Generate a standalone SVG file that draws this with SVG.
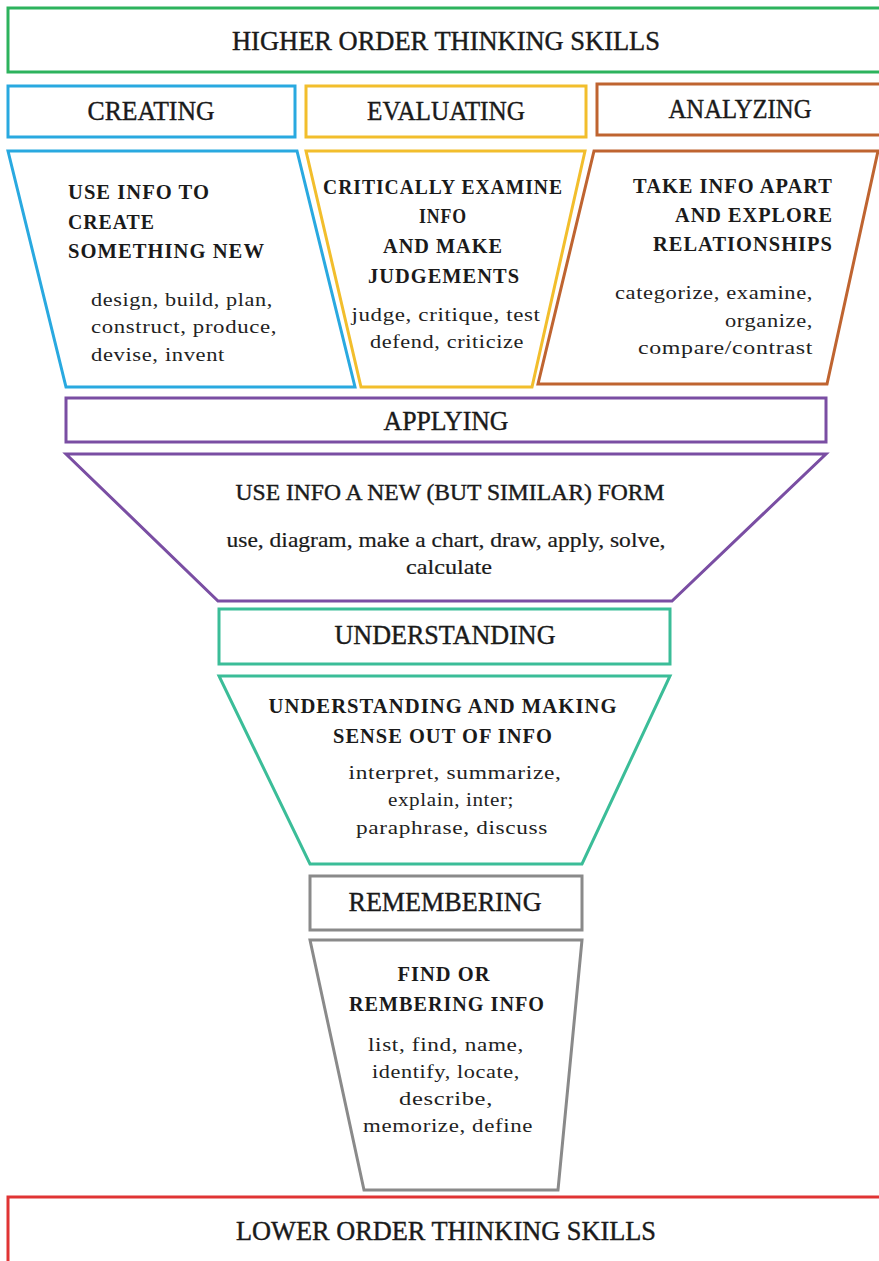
<svg xmlns="http://www.w3.org/2000/svg" width="879" height="1261" viewBox="0 0 879 1261">
<style>
.bx{fill:#fff;stroke-width:3}
.h{font-family:"Liberation Serif",serif;font-size:27px;fill:#1a1a1a;text-anchor:middle;stroke:#1a1a1a;stroke-width:0.4}
.b{font-family:"Liberation Serif",serif;font-size:20px;font-weight:bold;fill:#1a1a1a;letter-spacing:1px}
.t{font-family:"Liberation Serif",serif;font-size:18px;fill:#222;letter-spacing:0.5px}
.c{text-anchor:middle}
.r{text-anchor:end}
.green{stroke:#2db35d}.blue{stroke:#29a9e0}.yellow{stroke:#f2be2c}.brown{stroke:#bf6430}.purple{stroke:#7a4ea3}.teal{stroke:#3bbd98}.gray{stroke:#8a8a8a}.red{stroke:#e03434}
</style>
<rect width="879" height="1261" fill="#fff"/>
<g id="higher">
<rect class="bx green" x="8" y="8" width="880" height="64"/>
<text class="h" x="446" y="50" textLength="428" lengthAdjust="spacingAndGlyphs">HIGHER ORDER THINKING SKILLS</text>
</g>
<g id="creating">
<rect class="bx blue" x="8" y="86" width="287" height="51"/>
<text class="h" x="151" y="120" textLength="127" lengthAdjust="spacingAndGlyphs">CREATING</text>
<polygon class="bx blue" points="8,151 297,151 355,387 66,387"/>
<text class="b" x="68" y="199" textLength="142" lengthAdjust="spacingAndGlyphs">USE INFO TO</text>
<text class="b" x="68" y="229" textLength="87" lengthAdjust="spacingAndGlyphs">CREATE</text>
<text class="b" x="68" y="258" textLength="197" lengthAdjust="spacingAndGlyphs">SOMETHING NEW</text>
<text class="t" x="91" y="306" textLength="182" lengthAdjust="spacingAndGlyphs">design, build, plan,</text>
<text class="t" x="91" y="333" textLength="186" lengthAdjust="spacingAndGlyphs">construct, produce,</text>
<text class="t" x="91" y="361" textLength="134" lengthAdjust="spacingAndGlyphs">devise, invent</text>
</g>
<g id="evaluating">
<rect class="bx yellow" x="306" y="86" width="280" height="51"/>
<text class="h" x="446" y="120" textLength="158" lengthAdjust="spacingAndGlyphs">EVALUATING</text>
<polygon class="bx yellow" points="306,151 585,151 532,387 361,387"/>
<text class="b c" x="443" y="194" textLength="240" lengthAdjust="spacingAndGlyphs">CRITICALLY EXAMINE</text>
<text class="b c" x="443" y="223" textLength="48" lengthAdjust="spacingAndGlyphs">INFO</text>
<text class="b c" x="443" y="253" textLength="120" lengthAdjust="spacingAndGlyphs">AND MAKE</text>
<text class="b c" x="444" y="283" textLength="152" lengthAdjust="spacingAndGlyphs">JUDGEMENTS</text>
<text class="t c" x="446" y="321" textLength="189" lengthAdjust="spacingAndGlyphs">judge, critique, test</text>
<text class="t c" x="447" y="348" textLength="154" lengthAdjust="spacingAndGlyphs">defend, criticize</text>
</g>
<g id="analyzing">
<rect class="bx brown" x="597" y="84" width="290" height="51"/>
<text class="h" x="740" y="118" textLength="143" lengthAdjust="spacingAndGlyphs">ANALYZING</text>
<polygon class="bx brown" points="594,151 878,151 827,384 538,384"/>
<text class="b r" x="833" y="193" textLength="200" lengthAdjust="spacingAndGlyphs">TAKE INFO APART</text>
<text class="b r" x="833" y="222" textLength="158" lengthAdjust="spacingAndGlyphs">AND EXPLORE</text>
<text class="b r" x="833" y="251" textLength="180" lengthAdjust="spacingAndGlyphs">RELATIONSHIPS</text>
<text class="t r" x="813" y="299" textLength="198" lengthAdjust="spacingAndGlyphs">categorize, examine,</text>
<text class="t r" x="813" y="327" textLength="88" lengthAdjust="spacingAndGlyphs">organize,</text>
<text class="t r" x="813" y="354" textLength="175" lengthAdjust="spacingAndGlyphs">compare/contrast</text>
</g>
<g id="applying">
<rect class="bx purple" x="66" y="398" width="760" height="44"/>
<text class="h" x="446" y="430" textLength="125" lengthAdjust="spacingAndGlyphs">APPLYING</text>
<polygon class="bx purple" points="66,454 826,454 672,601 218,601"/>
<text class="h" x="450" y="500" style="font-size:23px" textLength="429" lengthAdjust="spacingAndGlyphs">USE INFO A NEW (BUT SIMILAR) FORM</text>
<text class="h" x="446" y="547" style="font-size:21px;stroke-width:0.2" textLength="439" lengthAdjust="spacingAndGlyphs">use, diagram, make a chart, draw, apply, solve,</text>
<text class="h" x="449" y="574" style="font-size:21px;stroke-width:0.2" textLength="86" lengthAdjust="spacingAndGlyphs">calculate</text>
</g>
<g id="understanding">
<rect class="bx teal" x="219" y="609" width="451" height="55"/>
<text class="h" x="445" y="644" textLength="221" lengthAdjust="spacingAndGlyphs">UNDERSTANDING</text>
<polygon class="bx teal" points="219,676 670,676 582,864 310,864"/>
<text class="b c" x="443" y="713" textLength="349" lengthAdjust="spacingAndGlyphs">UNDERSTANDING AND MAKING</text>
<text class="b c" x="443" y="743" textLength="220" lengthAdjust="spacingAndGlyphs">SENSE OUT OF INFO</text>
<text class="t c" x="455" y="779" textLength="213" lengthAdjust="spacingAndGlyphs">interpret, summarize,</text>
<text class="t c" x="451" y="806" textLength="126" lengthAdjust="spacingAndGlyphs">explain, inter;</text>
<text class="t c" x="452" y="834" textLength="192" lengthAdjust="spacingAndGlyphs">paraphrase, discuss</text>
</g>
<g id="remembering">
<rect class="bx gray" x="310" y="876" width="272" height="54"/>
<text class="h" x="445" y="911" textLength="193" lengthAdjust="spacingAndGlyphs">REMEMBERING</text>
<polygon class="bx gray" points="310,940 582,940 558,1190 364,1190"/>
<text class="b c" x="444" y="981" textLength="93" lengthAdjust="spacingAndGlyphs">FIND OR</text>
<text class="b c" x="447" y="1011" textLength="196" lengthAdjust="spacingAndGlyphs">REMBERING INFO</text>
<text class="t c" x="446" y="1051" textLength="156" lengthAdjust="spacingAndGlyphs">list, find, name,</text>
<text class="t c" x="446" y="1078" textLength="148" lengthAdjust="spacingAndGlyphs">identify, locate,</text>
<text class="t c" x="446" y="1105" textLength="94" lengthAdjust="spacingAndGlyphs">describe,</text>
<text class="t c" x="448" y="1132" textLength="170" lengthAdjust="spacingAndGlyphs">memorize, define</text>
</g>
<g id="lower">
<rect class="bx red" x="8" y="1197" width="880" height="80"/>
<text class="h" x="446" y="1240" textLength="420" lengthAdjust="spacingAndGlyphs">LOWER ORDER THINKING SKILLS</text>
</g>
<g id="connectors"></g>
</svg>
